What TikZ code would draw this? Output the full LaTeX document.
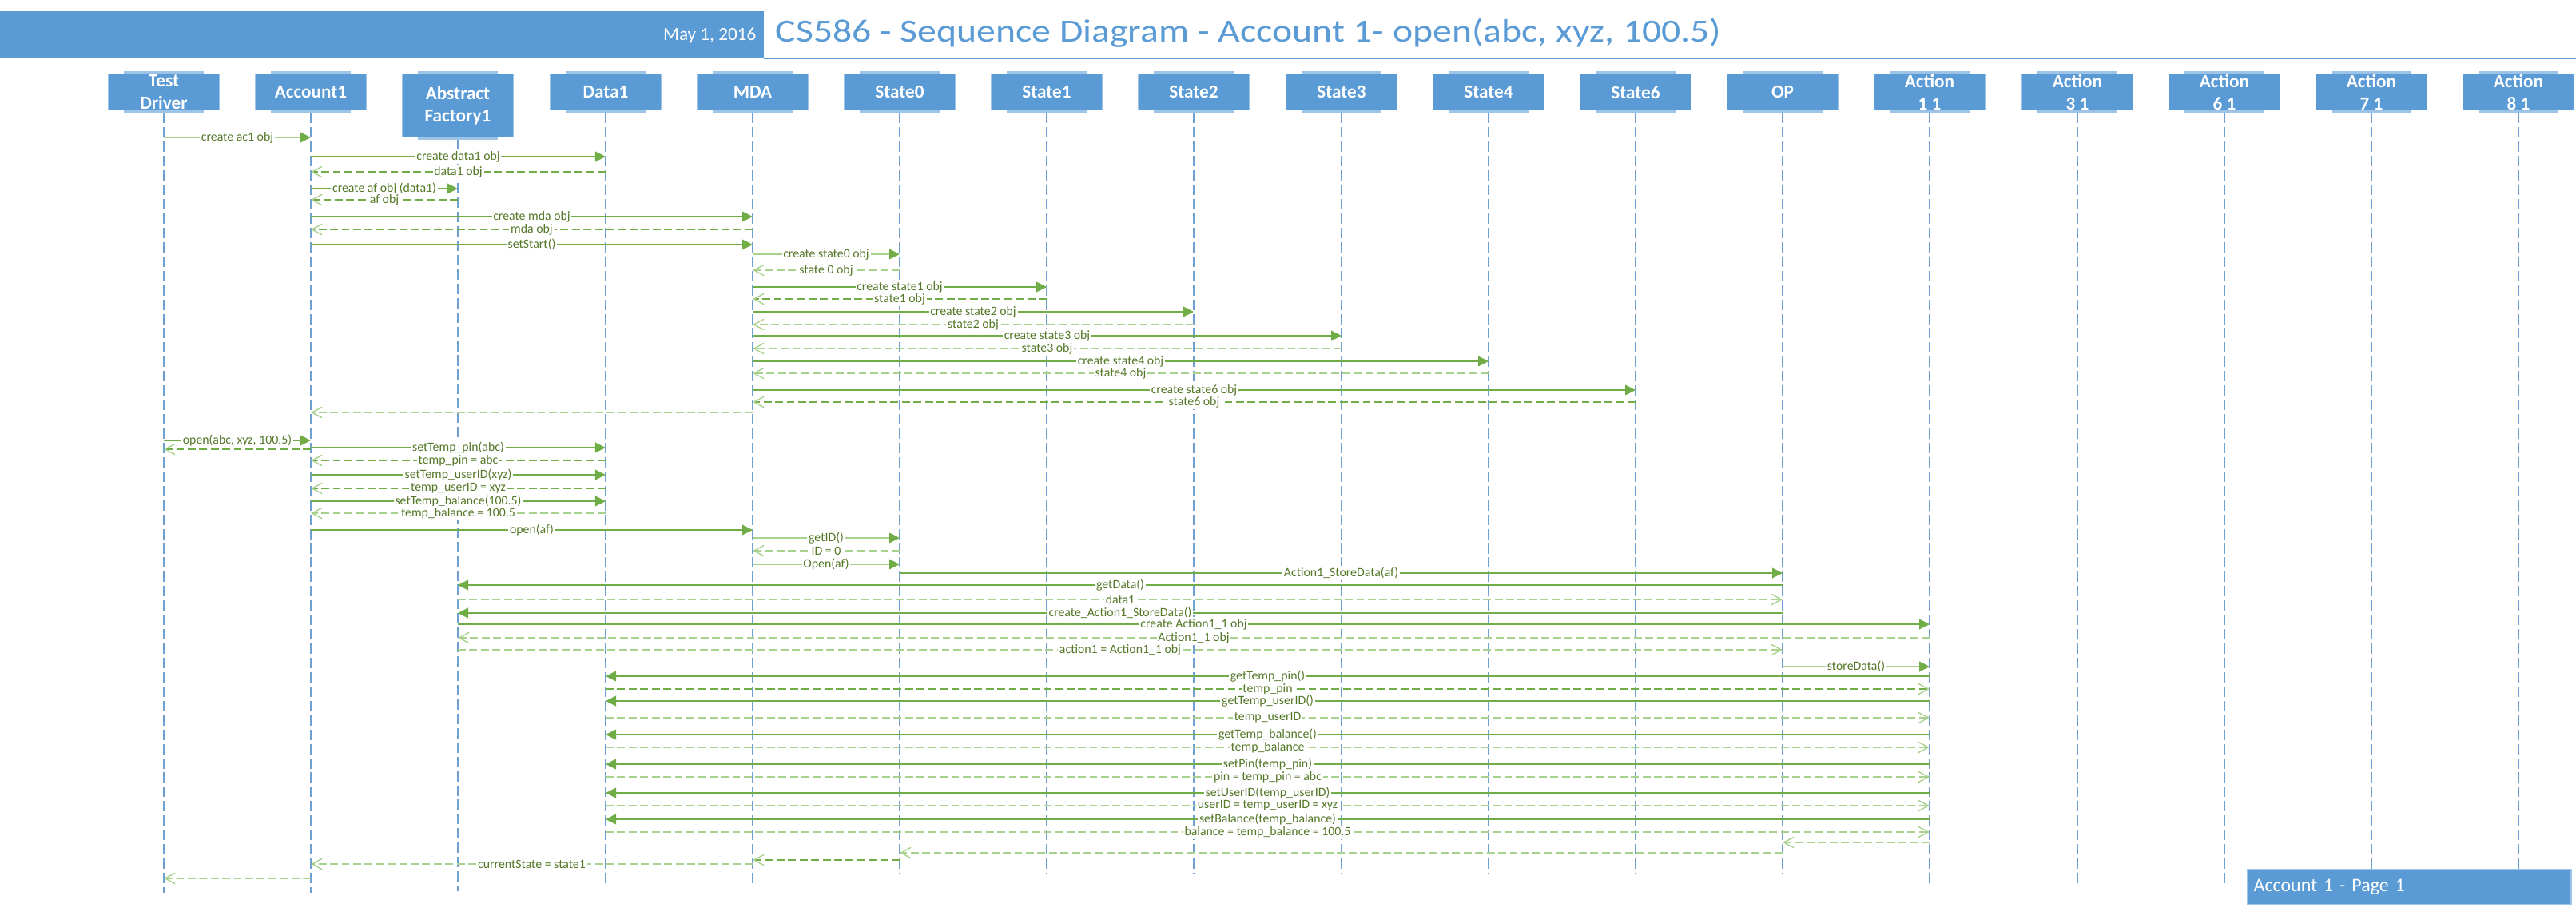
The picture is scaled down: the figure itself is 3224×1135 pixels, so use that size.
\documentclass[tikz,border=0pt]{standalone}
\usepackage{fontspec}
\setmainfont{Carlito}
\usepackage{graphicx}
\usetikzlibrary{arrows.meta,calc}

\definecolor{hdrblue}{RGB}{91,155,213}
\definecolor{stripblue}{RGB}{157,195,230}
\definecolor{lifeblue}{RGB}{110,160,210}
\definecolor{grnd}{RGB}{112,173,71}
\definecolor{grnl}{RGB}{169,209,142}
\definecolor{lbltxt}{RGB}{84,120,40}

\tikzset{
	head/.style={draw=stripblue, line width=0.4pt, fill=hdrblue, minimum width=1.39cm, minimum height=0.45cm, anchor=north, inner sep=0pt},
	headtext/.style={text=white, font=\fontsize{6.6}{8}\selectfont\bfseries, align=center, inner sep=0pt},
	strip/.style={fill=stripblue},
	life/.style={draw=lifeblue, line width=0.35pt, dash pattern=on 3.7pt off 1.4pt},
	lbl/.style={font=\fontsize{4.5}{5}\selectfont, text=lbltxt, fill=white, inner sep=0.5pt},
	call/.style={draw=grnd, line width=0.55pt, -{Triangle[length=3.7pt,width=3.6pt,color=grnd]}},
	calll/.style={draw=grnl, line width=0.55pt, -{Triangle[length=3.7pt,width=3.6pt,color=grnd]}},
	ret/.style={draw=grnd, line width=0.5pt, dash pattern=on 2.8pt off 1.3pt, -{Straight Barb[length=3.6pt,width=3.8pt,line width=0.4pt,color=grnl]}},
	retl/.style={draw=grnl, line width=0.55pt, dash pattern=on 2.8pt off 1.3pt, -{Straight Barb[length=3.6pt,width=3.8pt,line width=0.4pt,color=grnl]}}
}

% lifeline head: box, its strips, its text and its dashed line
\def\lifehead[#1](#2)(#3)(#4)#5{%
	\node[head,#1] (#2) at (#3,92) {};
	\node[headtext] (#2t) at (#2) {#5};
	\fill[strip] ($(#2.north)+(-50,-3)$) rectangle ($(#2.north)+(50,0)$);
	\fill[strip] ($(#2.south)+(-50,0)$) rectangle ($(#2.south)+(50,3)$);
	\draw[life] ($(#2.south)+(0,3)$) -- (#2 |- 0,#4);}
% message between two lifelines at height y
\def\msg[#1](#2)(#3)(#4)#5{\draw[#1] (#2 |- 0,#4) -- node[lbl] {#5} (#3 |- 0,#4);}
\def\msgx[#1](#2)(#3)(#4){\draw[#1] (#2 |- 0,#4) -- (#3 |- 0,#4);}

\begin{document}
\begin{tikzpicture}[x=0.01cm, y=-0.01cm]
	\useasboundingbox (0,0) rectangle (3224,1135);
	
	%%%%% HEADER %%%%%
	\fill[hdrblue] (0,14) rectangle (956,73);
	\draw[hdrblue, line width=0.5pt] (956,73) -- (3224,73);
	\node[anchor=base east, inner sep=0pt, text=white, font=\fontsize{6.6}{8}\selectfont] (date) at (947,50) {May 1, 2016};
	\node[anchor=base west, inner sep=0pt, text=hdrblue, font=\fontsize{11.5}{13}\selectfont] (title) at (970,52) {\scalebox{1.18}[1]{CS586 - Sequence Diagram - Account 1- open(abc, xyz, 100.5)}};
	
	%%%%% LIFELINES %%%%%
	\lifehead[](td)(205)(1117){Test\\Driver}
	\lifehead[](acc)(389)(1117){Account1}
	\lifehead[minimum height=0.79cm](af)(573)(1115){Abstract\\Factory1}
	\lifehead[](data)(758)(1105){Data1}
	\lifehead[](mda)(942)(1105){MDA}
	\lifehead[](st0)(1126)(1093){State0}
	\lifehead[](st1)(1310)(1093){State1}
	\lifehead[](st2)(1494)(1093){State2}
	\lifehead[](st3)(1679)(1093){State3}
	\lifehead[](st4)(1863)(1093){State4}
	\lifehead[](st6)(2047)(1093){State6}
	\lifehead[](op)(2231)(1093){OP}
	\lifehead[](act11)(2415)(1105){Action\\1 1}
	\lifehead[](act31)(2600)(1105){Action\\3 1}
	\lifehead[](act61)(2784)(1105){Action\\6 1}
	\lifehead[](act71)(2968)(1105){Action\\7 1}
	\lifehead[](act81)(3152)(1105){Action\\8 1}
	
	%%%%% CREATION %%%%%
	\msg[calll](td)(acc)(172){create ac1 obj}
	\msg[call](acc)(data)(196){create data1 obj}
	\msg[ret](data)(acc)(215){data1 obj}
	\msg[call](acc)(af)(236){create af obj (data1)}
	\msg[ret](af)(acc)(250){af obj}
	\msg[call](acc)(mda)(271){create mda obj}
	\msg[ret](mda)(acc)(287){mda obj}
	\msg[call](acc)(mda)(306){setStart()}
	\msg[calll](mda)(st0)(318){create state0 obj}
	\msg[retl](st0)(mda)(338){state 0 obj}
	\msg[call](mda)(st1)(359){create state1 obj}
	\msg[ret](st1)(mda)(374){state1 obj}
	\msg[call](mda)(st2)(390){create state2 obj}
	\msg[retl](st2)(mda)(406){state2 obj}
	\msg[call](mda)(st3)(420){create state3 obj}
	\msg[retl](st3)(mda)(436){state3 obj}
	\msg[call](mda)(st4)(452){create state4 obj}
	\msg[retl](st4)(mda)(467){state4 obj}
	\msg[call](mda)(st6)(488){create state6 obj}
	\msg[ret](st6)(mda)(503){state6 obj}
	\msgx[retl](mda)(acc)(516)
	
	%%%%% OPEN %%%%%
	\msg[call](td)(acc)(551){open(abc, xyz, 100.5)}
	\msgx[ret](acc)(td)(562)
	\msg[call](acc)(data)(560){setTemp\_pin(abc)}
	\msg[ret](data)(acc)(576){temp\_pin = abc}
	\msg[call](acc)(data)(594){setTemp\_userID(xyz)}
	\msg[ret](data)(acc)(611){temp\_userID = xyz}
	\msg[call](acc)(data)(627){setTemp\_balance(100.5)}
	\msg[retl](data)(acc)(642){temp\_balance = 100.5}
	\msg[call](acc)(mda)(663){open(af)}
	\msg[calll](mda)(st0)(673){getID()}
	\msg[retl](st0)(mda)(689){ID = 0}
	\msg[calll](mda)(st0)(706){Open(af)}
	\msg[call](st0)(op)(717){Action1\_StoreData(af)}
	\msg[call](op)(af)(732){getData()}
	\msg[retl](af)(op)(750){data1}
	\msg[call](op)(af)(767){create\_Action1\_StoreData()}
	\msg[call](af)(act11)(781){create Action1\_1 obj}
	\msg[retl](act11)(af)(798){Action1\_1 obj}
	\msg[retl](af)(op)(813){action1 = Action1\_1 obj}
	\msg[calll](op)(act11)(834){storeData()}
	
	%%%%% STORE DATA %%%%%
	\msg[call](act11)(data)(846){getTemp\_pin()}
	\msg[ret](data)(act11)(862){temp\_pin}
	\msg[call](act11)(data)(877){getTemp\_userID()}
	\msg[retl](data)(act11)(898){temp\_userID}
	\msg[call](act11)(data)(919){getTemp\_balance()}
	\msg[retl](data)(act11)(935){temp\_balance}
	\msg[call](act11)(data)(956){setPin(temp\_pin)}
	\msg[retl](data)(act11)(972){pin = temp\_pin = abc}
	\msg[call](act11)(data)(992){setUserID(temp\_userID)}
	\msg[retl](data)(act11)(1008){userID = temp\_userID = xyz}
	\msg[call](act11)(data)(1025){setBalance(temp\_balance)}
	\msg[retl](data)(act11)(1041){balance = temp\_balance = 100.5}
	\msgx[retl](act11)(op)(1054)
	\msgx[retl](op)(st0)(1067)
	\msgx[ret](st0)(mda)(1076)
	\msg[retl](mda)(acc)(1081){currentState = state1}
	\msgx[retl](acc)(td)(1099)
	
	%%%%% FOOTER %%%%%
	\node[draw=stripblue, line width=0.4pt, fill=hdrblue, anchor=north west, minimum height=0.44cm, text width=3.89cm, inner xsep=0.08cm, inner ysep=0pt, align=left, text=white, font=\fontsize{6.8}{8}\selectfont] (page) at (2812,1087) {Account 1 - Page 1};
\end{tikzpicture}
\end{document}
